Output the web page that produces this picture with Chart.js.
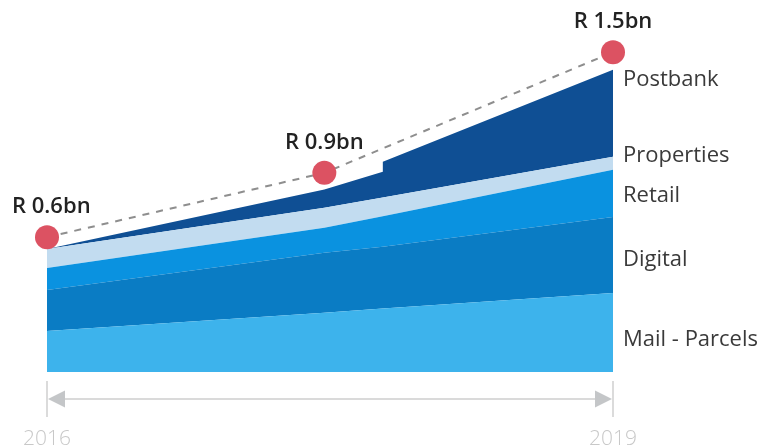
<!DOCTYPE html>
<html>
<head>
<meta charset="utf-8">
<script src="https://cdn.jsdelivr.net/npm/chart.js@4.4.1/dist/chart.umd.min.js"></script>
<style>
  html, body { margin: 0; padding: 0; background: #fff; }
  #wrap { width: 780px; height: 448px; }
</style>
</head>
<body>
<div id="wrap"><canvas id="revenue" width="780" height="448"></canvas></div>
<script>
// Revenue mix, R bn (the step at ~2017.8 is in Postbank only)
const years       = [2016, 2017.47, 2017.78, 2017.78, 2019];
const mailParcels = [0.204, 0.294, 0.316, 0.316, 0.393];
const digital     = [0.204, 0.299, 0.307, 0.307, 0.378];
const retail      = [0.109, 0.124, 0.151, 0.151, 0.234];
const properties  = [0.095, 0.100, 0.093, 0.093, 0.065];
const postbank    = [0.000, 0.090, 0.128, 0.178, 0.433];

// Totals markers
const dotYears  = [2016, 2017.47, 2019];
const dotValues = [0.67, 0.99, 1.59];
const dotLabels = ['R 0.6bn', 'R 0.9bn', 'R 1.5bn'];

// Series names on the right and where they sit (value on the y scale)
const seriesNames = ['Mail - Parcels', 'Digital', 'Retail', 'Properties', 'Postbank'];
const nameAt      = [0.16, 0.56, 0.875, 1.075, 1.455];

const axisYears = [2016, 2019];

const colors = {
  mail: '#3db3ec',
  digital: '#0a7cc4',
  retail: '#0a92e0',
  properties: '#c2dcf0',
  postbank: '#0f4f94'
};

function toPoints(xs, ys) {
  return xs.map((x, i) => ({ x: x, y: ys[i] }));
}

function area(label, values, color, fill) {
  return {
    label: label,
    data: toPoints(years, values),
    stack: 'mix',
    backgroundColor: color,
    borderWidth: 0,
    pointRadius: 0,
    tension: 0,
    fill: fill
  };
}

// Labels, right-hand names and the bottom time arrow
const annotate = {
  id: 'annotate',
  afterDatasetsDraw(chart) {
    const { ctx, chartArea, scales: { x, y } } = chart;
    ctx.save();

    // value labels above the dots
    ctx.fillStyle = '#222';
    ctx.font = '600 22px "Open Sans", sans-serif';
    ctx.textBaseline = 'middle';
    ctx.textAlign = 'center';
    dotYears.forEach((yr, i) => {
      const w = ctx.measureText(dotLabels[i]).width;
      let cx = x.getPixelForValue(yr);
      cx = Math.max(cx, 12 + w / 2);
      ctx.fillText(dotLabels[i], cx, y.getPixelForValue(dotValues[i]) - 30);
    });

    // series names
    ctx.fillStyle = '#3a3a3a';
    ctx.font = '22px "Open Sans", sans-serif';
    ctx.textAlign = 'left';
    seriesNames.forEach((name, i) => {
      ctx.fillText(name, chartArea.right + 10, y.getPixelForValue(nameAt[i]));
    });

    // bottom arrow between first and last year
    const x0 = x.getPixelForValue(axisYears[0]);
    const x1 = x.getPixelForValue(axisYears[1]);
    const ay = chartArea.bottom + 27;
    ctx.strokeStyle = '#cfcfcf';
    ctx.lineWidth = 1.5;
    ctx.beginPath();
    ctx.moveTo(x0, chartArea.bottom + 9); ctx.lineTo(x0, chartArea.bottom + 45);
    ctx.moveTo(x1, chartArea.bottom + 9); ctx.lineTo(x1, chartArea.bottom + 45);
    ctx.stroke();
    ctx.lineWidth = 2;
    ctx.strokeStyle = '#dadada';
    ctx.beginPath();
    ctx.moveTo(x0 + 16, ay); ctx.lineTo(x1 - 16, ay);
    ctx.stroke();
    ctx.fillStyle = '#c4c6c8';
    ctx.beginPath();
    ctx.moveTo(x0 + 1, ay); ctx.lineTo(x0 + 18, ay - 8.5); ctx.lineTo(x0 + 18, ay + 8.5);
    ctx.closePath(); ctx.fill();
    ctx.beginPath();
    ctx.moveTo(x1 - 1, ay); ctx.lineTo(x1 - 18, ay - 8.5); ctx.lineTo(x1 - 18, ay + 8.5);
    ctx.closePath(); ctx.fill();

    // year labels
    ctx.fillStyle = '#c8c8c8';
    ctx.font = '300 21px "Open Sans", sans-serif';
    ctx.textAlign = 'center';
    ctx.textBaseline = 'alphabetic';
    axisYears.forEach(yr => {
      ctx.fillText(String(yr), x.getPixelForValue(yr), chartArea.bottom + 73);
    });

    ctx.restore();
  }
};

new Chart(document.getElementById('revenue').getContext('2d'), {
  type: 'line',
  data: {
    datasets: [
      {
        label: 'Total',
        data: toPoints(dotYears, dotValues),
        stack: 'dots',
        borderColor: '#8e8e8e',
        borderWidth: 2,
        borderDash: [7, 7],
        pointRadius: 12,
        pointBackgroundColor: '#dc5262',
        pointBorderWidth: 0,
        fill: false,
        clip: false
      },
      area('Mail - Parcels', mailParcels, colors.mail, 'origin'),
      area('Digital', digital, colors.digital, '-1'),
      area('Retail', retail, colors.retail, '-1'),
      area('Properties', properties, colors.properties, '-1'),
      area('Postbank', postbank, colors.postbank, '-1')
    ]
  },
  options: {
    responsive: false,
    animation: false,
    layout: { padding: { left: 47, right: 167, top: 22, bottom: 76 } },
    scales: {
      x: { type: 'linear', min: 2016, max: 2019, display: false },
      y: { min: 0, max: 1.74, stacked: true, display: false }
    },
    plugins: { legend: { display: false }, tooltip: { enabled: false } }
  },
  plugins: [annotate]
});
</script>
</body>
</html>
